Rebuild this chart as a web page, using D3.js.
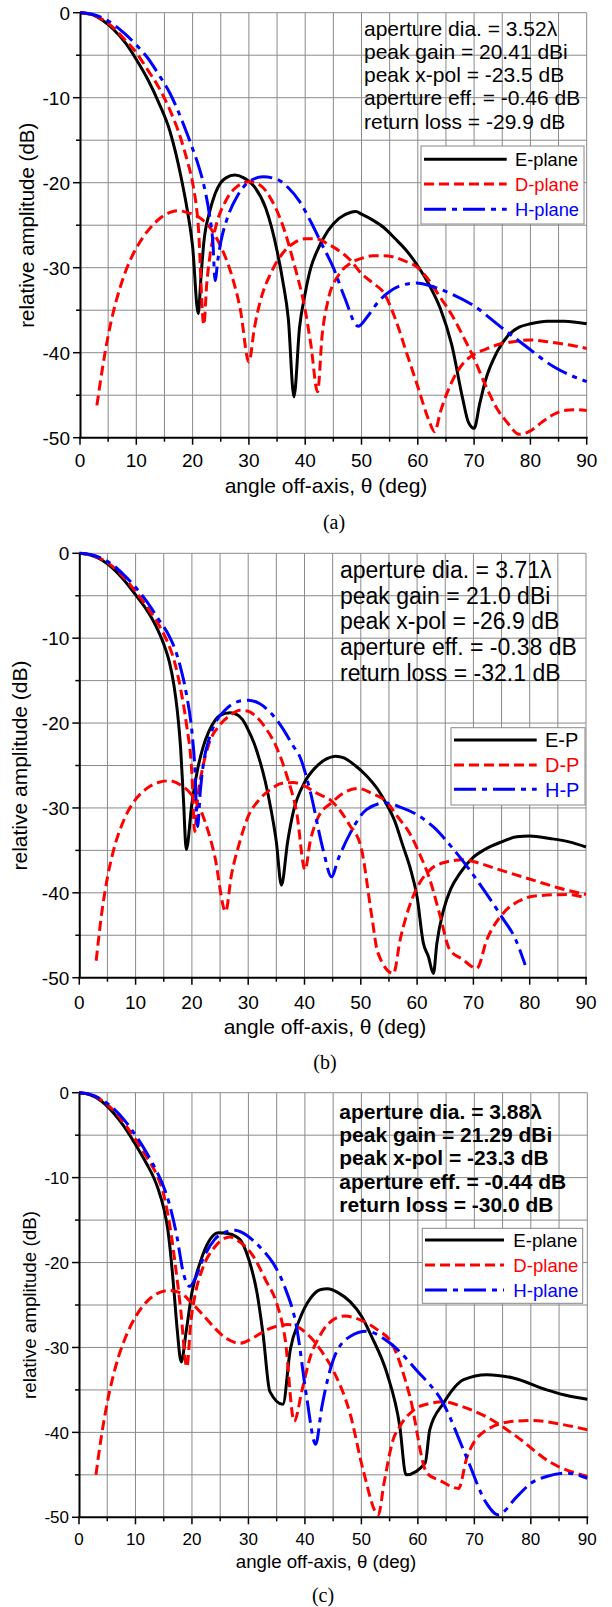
<!DOCTYPE html>
<html>
<head>
<meta charset="utf-8">
<script src="https://cdn.jsdelivr.net/npm/d3@7"></script>
<style>
  body { margin: 0; background: #fff; }
  svg { display: block; }
</style>
</head>
<body>
<svg id="chart"></svg>
<script>
// ---- data: [angle (deg), relative amplitude (dB)] ----
const xTicks = [0, 10, 20, 30, 40, 50, 60, 70, 80, 90];
const yTicks = [0, -10, -20, -30, -40, -50];

// (a)
const aE = [[0,0],[2,-0.2],[4,-0.9],[6,-2],[8,-3.5],[10,-5.5],[12,-7.8],[14,-10.6],[16,-14],[18,-19.5],[19,-23],[20,-27.5],[21,-35.4],[21.5,-31],[22,-27],[23,-23.5],[24,-21.3],[25,-20],[26,-19.4],[27.5,-19.1],[29,-19.4],[31,-20.5],[33,-23],[35,-28],[36,-31.5],[37,-36],[38,-45.2],[39,-37],[40,-33],[41,-30],[42,-28.2],[44,-25.7],[46,-24.2],[48,-23.5],[49,-23.4],[50,-23.7],[52,-24.4],[54,-25.3],[56,-26.6],[58,-28],[60,-29.8],[62,-32],[64,-34.8],[66,-39],[68,-45.5],[69,-48.2],[70,-48.9],[71,-46],[72,-43.3],[74,-40],[76,-38],[78,-37],[80,-36.6],[83,-36.3],[86,-36.3],[90,-36.6]];
const aD = [[0,0],[2,-0.2],[4,-0.8],[6,-1.8],[8,-3.2],[10,-4.7],[12,-6.7],[14,-8.8],[16,-11.5],[18,-15],[19,-17.3],[20,-20],[21,-25],[22,-36.7],[22.5,-32],[23,-29],[24,-25.5],[26,-22],[28,-20.4],[30,-19.9],[32,-20.3],[34,-22],[36,-25],[38,-29.5],[40,-35],[41,-39],[42.2,-44.6],[43,-38],[44,-34],[46,-30.8],[48,-29.5],[50,-28.9],[52,-28.6],[54,-28.6],[56,-28.8],[58,-29.3],[60,-30],[62,-31.5],[64,-33.5],[66,-35.5],[68,-38],[70,-40.7],[72,-43.8],[74,-46.5],[76,-48.3],[78,-49.6],[80,-49.2],[82,-48.2],[84,-47.3],[86,-46.8],[88,-46.7],[90,-46.8]];
const aDx = [[3,-46.2],[4,-41.8],[5,-38],[6,-35],[7,-32.6],[8,-30.6],[9,-29],[10,-27.7],[12,-25.7],[14,-24.3],[16,-23.5],[17.5,-23.3],[19,-23.5],[21,-24],[23,-25.2],[25,-27.5],[27,-31],[28.5,-35],[30,-41.1],[31,-37],[32,-34],[34,-30.5],[36,-28.3],[38,-27.1],[40,-26.6],[42,-26.6],[44,-27.2],[46,-28],[48,-29.1],[50,-30.7],[52,-31.8],[54,-33],[56,-36],[58,-40],[60,-44],[62,-48],[63,-49.3],[64,-47],[66,-43.5],[68,-41.3],[70,-40.2],[72,-39.6],[74,-39.1],[77,-38.7],[80,-38.5],[84,-38.8],[87,-39.1],[90,-39.5]];
const aH = [[0,0],[2,-0.15],[4,-0.6],[6,-1.4],[8,-2.5],[10,-3.8],[12,-5.3],[14,-7.3],[16,-9.5],[18,-12.5],[20,-16],[21,-17.9],[22,-20.3],[23,-23.8],[23.6,-27],[24,-31.5],[24.5,-29],[25,-27],[26,-24.5],[28,-21.5],[30,-19.9],[32.5,-19.3],[35,-19.6],[37,-20.6],[39,-22.2],[41,-24.6],[43,-27.3],[45,-30],[47,-33.5],[49.4,-36.9],[51,-35.8],[53,-34],[55,-32.8],[57,-32.1],[59.8,-31.8],[62,-32.1],[65.7,-33],[70,-34.5],[74.6,-36.9],[79.3,-39.3],[84,-41.6],[90,-43.4]];

// (b)
const bE = [[0,0],[2,-0.2],[4,-0.8],[6,-1.8],[8,-3.2],[10,-4.9],[12,-6.7],[13,-7.8],[14,-9.1],[15,-10.7],[16,-12.8],[16.8,-15.5],[17.4,-18.5],[18,-23],[18.5,-29],[19,-34.9],[20,-29.5],[21,-25.5],[22,-22.8],[23,-21],[24,-19.8],[25,-19.1],[26.8,-18.8],[28,-19],[29,-19.6],[30,-20.8],[31,-22.3],[32,-24.3],[33,-26.8],[34,-30],[35,-34],[35.9,-39.1],[37,-34],[38,-30.5],[40,-27],[42,-25.2],[44,-24.2],[45.5,-23.9],[47,-24.1],[49,-25],[51,-26.2],[53,-27.8],[54.6,-29.6],[56,-31.5],[57.5,-34.5],[58.7,-36.9],[60,-40.5],[61.1,-45.9],[62,-47.5],[62.9,-49.5],[63.5,-46],[64.7,-42],[66,-39.5],[67.6,-37.7],[70,-35.8],[72,-34.9],[75,-34],[77.7,-33.4],[80,-33.3],[83.6,-33.6],[87,-34],[90,-34.6]];
const bD = [[0,0],[2,-0.2],[4,-0.7],[6,-1.6],[8,-2.9],[10,-4.5],[12,-6.3],[14,-8.3],[15.5,-10.2],[17,-13],[18,-16],[19,-20],[20,-26],[20.5,-32.8],[21,-29],[22,-25],[23,-22.5],[25,-20.2],[27,-19],[28.5,-18.5],[30,-18.6],[31,-19],[33,-20.5],[35,-22.8],[37,-26.5],[38.6,-30.5],[40.1,-37.3],[41,-34],[42.5,-31],[44.8,-29.4],[47,-28.2],[49.5,-27.7],[52,-28.3],[54.6,-29.3],[56.5,-31],[58.7,-33],[60.5,-35.5],[62.3,-38.5],[64,-42.5],[65.8,-46.7],[68,-47.8],[70.6,-48.9],[72.4,-45.5],[75.3,-42.4],[78,-41],[80.6,-40.4],[86.6,-40.2],[90,-40.6]];
const bDx = [[3,-48],[4,-42.3],[5,-38.2],[6,-35.2],[8,-31.3],[10,-29],[12,-27.7],[14,-27],[16,-26.8],[18,-27.3],[20,-28.5],[22,-31],[24,-35.5],[26,-42.2],[27,-38],[28.5,-34],[30,-31],[32,-29],[34,-27.8],[36,-27.1],[38,-27],[40,-27.4],[42,-28.2],[45,-29.3],[48,-32],[50,-34.5],[52,-43],[53,-47],[55.8,-49.5],[57,-45.5],[59.3,-40.4],[62.3,-37.3],[65,-36.4],[68.2,-36.1],[71,-36.5],[74.7,-37.3],[80.6,-38.5],[85,-39.4],[90,-40.2]];
const bH = [[0,0],[2,-0.15],[4,-0.6],[6,-1.4],[8,-2.6],[10,-4],[12,-5.7],[14,-7.7],[16,-9.8],[17,-11.3],[18,-13.5],[19,-16.5],[20,-21],[20.5,-25],[21,-32.2],[21.5,-28],[22,-25],[23,-22],[24,-20.2],[26,-18.4],[28,-17.5],[30,-17.3],[32,-17.7],[34,-18.8],[36,-20.5],[38,-22.7],[39.2,-24],[41,-28],[43.3,-34.9],[44.8,-38.1],[46,-36],[48.1,-33],[51,-30.2],[54.3,-29.4],[57,-29.9],[60,-30.8],[63,-32.3],[66,-34.5],[69,-37],[72,-39.8],[75,-42.8],[77.5,-45.5],[79.2,-48.5]];

// (c)
const cE = [[0,0],[2,-0.25],[4,-1],[6,-2.3],[8,-4],[10,-6.1],[12,-8.4],[13.3,-10.1],[14,-11.3],[15,-13.6],[15.7,-16],[16.3,-19.5],[16.9,-24],[17.4,-28],[18.1,-31.7],[19,-28],[20,-23.5],[21.4,-20.1],[23,-17.5],[24.7,-16.5],[26.5,-16.6],[28.5,-17.3],[30,-19.5],[31.5,-23.5],[32.6,-28.5],[33.8,-35.2],[36.1,-36.7],[37.4,-30.3],[39,-26.8],[41,-24.2],[42.7,-23.2],[44,-23.1],[46,-23.6],[48,-24.6],[50,-26.3],[51.8,-28.7],[54.5,-33],[56.8,-39.3],[57.9,-45],[61.3,-43.6],[62.1,-39.7],[64.5,-36.6],[68.1,-33.8],[72.2,-33.2],[76.9,-33.6],[82.8,-35],[86,-35.6],[90,-36.1]];
const cD = [[0,0],[2,-0.2],[4,-0.9],[6,-2],[8,-3.6],[10,-5.5],[12,-7.6],[13,-8.7],[14,-10],[15,-12],[16,-15.3],[17,-20],[18,-25.5],[19.1,-32.3],[19.8,-27],[20.5,-24],[22,-20.5],[24,-18.2],[26.7,-17],[28.5,-17.6],[30.9,-19.3],[33,-22],[35,-24.8],[36.5,-29],[38.1,-38.7],[39.5,-35],[41,-31],[42.5,-28.8],[44,-27.3],[47,-26.3],[50,-26.8],[53,-28],[55.1,-29.2],[58.6,-35.8],[61.6,-44.8],[64,-45.7],[67.2,-46.6],[68.7,-42.9],[72.2,-39.7],[76.9,-38.7],[80.4,-38.6],[85,-39],[90,-39.7]];
const cDx = [[3,-45],[4,-40.3],[5,-36.5],[6,-33.5],[7,-31.1],[8,-29.2],[10,-26.4],[12,-24.6],[14,-23.6],[16,-23.3],[18,-23.6],[20,-24.8],[22,-26.2],[24,-27.7],[26,-28.9],[28.5,-29.5],[31,-28.8],[33,-28],[35,-27.5],[37,-27.3],[39,-27.7],[41,-28.8],[43,-30.5],[45,-32.7],[48,-37.8],[50.3,-44.4],[53,-49.7],[54,-46],[55.6,-40.9],[56.8,-39.3],[59.2,-37.4],[62,-36.6],[64.5,-36.4],[68,-37],[72.2,-38.2],[77.5,-40.5],[83.4,-43.5],[90,-45.2]];
const cH = [[0,0],[2,-0.2],[4,-0.8],[6,-1.8],[8,-3.2],[10,-5],[12,-7.1],[14,-9.6],[15,-11.1],[16,-13.1],[17.3,-16.8],[18.5,-21.3],[19.6,-22.8],[20.5,-22],[22,-19.5],[24,-17.3],[26,-16.4],[27.6,-16.2],[29,-16.5],[31,-17.5],[32.5,-18.5],[34.4,-20.1],[36.5,-23],[38.5,-27.5],[40.3,-35.8],[41.9,-41.4],[43,-37],[45,-31.5],[48,-28.7],[50.9,-28.1],[55.1,-29.5],[59.8,-32.7],[64.5,-36.6],[68.6,-42.9],[72.2,-48.4],[74.2,-49.7],[77.5,-47.6],[80,-46],[82.8,-45.2],[86.4,-44.8],[90,-45.4]];

const legendA = ["E-plane", "D-plane", "H-plane"];
const legendB = ["E-P", "D-P", "H-P"];
const notesA = ["aperture dia. = 3.52λ", "peak gain = 20.41 dBi", "peak x-pol = -23.5 dB", "aperture eff. = -0.46 dB", "return loss = -29.9 dB"];
const notesB = ["aperture dia. = 3.71λ", "peak gain = 21.0 dBi", "peak x-pol = -26.9 dB", "aperture eff. = -0.38 dB", "return loss = -32.1 dB"];
const notesC = ["aperture dia. = 3.88λ", "peak gain = 21.29 dBi", "peak x-pol = -23.3 dB", "aperture eff. = -0.44 dB", "return loss = -30.0 dB"];

// ---- styles ----
const styles = [
  { color: "#000", dash: null },          // E
  { color: "#ff0000", dash: "10,5" },     // D (co)
  { color: "#ff0000", dash: "10,5" },     // D (cross)
  { color: "#0000ff", dash: "22,6,5,6" }  // H
];
const legendStyles = [styles[0], styles[1], styles[3]];
const FONT = "Liberation Sans, Arial, Helvetica, sans-serif";

const svg = d3.select("#chart").attr("width", 612).attr("height", 1607);
svg.append("rect").attr("width", 612).attr("height", 1607).attr("fill", "#fff");

const panels = [
  { id: "a", x0: 80, x1: 586.7, y0: 12.7, y1: 437.7, tickFont: 19, xtickY: 460,
    titleFont: 21, xtitleX: 326, xtitleY: 485, ylabX: 27, ylabFont: 20.5,
    caption: "(a)", capX: 334, capY: 522,
    notes: notesA, noteX: 364, noteY: 35.5, noteDy: 23.3, noteFont: 21, noteBold: false,
    legend: { x: 421, y: 146, w: 163, h: 78, rows: [159.3, 184, 209.3], lx0: 424, lx1: 506.7, tx: 515, font: 18.3 },
    labels: legendA, series: [aE, aD, aDx, aH] },
  { id: "b", x0: 79.3, x1: 586, y0: 553.3, y1: 977.7, tickFont: 19, xtickY: 1001.7,
    titleFont: 21, xtitleX: 325, xtitleY: 1026.7, ylabX: 19, ylabFont: 21,
    caption: "(b)", capX: 325, capY: 1062,
    notes: notesB, noteX: 340, noteY: 577.7, noteDy: 25.8, noteFont: 23, noteBold: false,
    legend: { x: 451, y: 727.7, w: 134, h: 77.3, rows: [740, 765, 789.3], lx0: 454, lx1: 536.7, tx: 545, font: 20 },
    labels: legendB, series: [bE, bD, bDx, bH] },
  { id: "c", x0: 79, x1: 587.3, y0: 1092.7, y1: 1517.3, tickFont: 17, xtickY: 1539,
    titleFont: 18.7, xtitleX: 326, xtitleY: 1561, ylabX: 29, ylabFont: 18.8,
    caption: "(c)", capX: 323, capY: 1595,
    notes: notesC, noteX: 339.3, noteY: 1118.8, noteDy: 23.3, noteFont: 21, noteBold: true,
    legend: { x: 422.3, y: 1228.3, w: 160.4, h: 75, rows: [1240, 1265, 1290], lx0: 425, lx1: 504, tx: 513.3, font: 18.6 },
    labels: legendA, series: [cE, cD, cDx, cH] }
];

panels.forEach(p => {
  const x = d3.scaleLinear().domain([0, 90]).range([p.x0, p.x1]);
  const y = d3.scaleLinear().domain([0, -50]).range([p.y0, p.y1]);
  const g = svg.append("g");

  // grid every 5
  const gridX = d3.range(5, 91, 5);
  const gridY = d3.range(0, -50, -5);
  g.append("g").selectAll("line").data(gridX).enter().append("line")
    .attr("x1", d => x(d)).attr("x2", d => x(d))
    .attr("y1", y(0)).attr("y2", y(-50))
    .attr("stroke", "#8a8a8a").attr("stroke-width", 1);
  g.append("g").selectAll("line").data(gridY).enter().append("line")
    .attr("x1", x(0)).attr("x2", x(90))
    .attr("y1", d => y(d)).attr("y2", d => y(d))
    .attr("stroke", "#8a8a8a").attr("stroke-width", 1);

  // curves
  svg.append("clipPath").attr("id", "clip-" + p.id)
    .append("rect").attr("x", p.x0).attr("y", p.y0 - 2)
    .attr("width", p.x1 - p.x0 + 2).attr("height", p.y1 - p.y0 + 2);
  const line = d3.line().x(d => x(d[0])).y(d => y(d[1])).curve(d3.curveMonotoneX);
  const cg = g.append("g").attr("clip-path", `url(#clip-${p.id})`);
  p.series.forEach((s, i) => {
    cg.append("path").datum(s)
      .attr("d", line)
      .attr("fill", "none")
      .attr("stroke", styles[i].color)
      .attr("stroke-width", 3)
      .attr("stroke-linejoin", "round")
      .attr("stroke-dasharray", styles[i].dash);
  });

  // axes
  const yAxis = d3.axisLeft(y).tickValues(d3.range(0, -51, -5))
    .tickSize(0).tickFormat("");
  g.append("g").attr("transform", `translate(${p.x0},0)`).call(yAxis)
    .call(a => a.select(".domain").attr("stroke", "#000").attr("stroke-width", 2));
  g.append("g").selectAll("line").data(d3.range(0, -51, -5)).enter().append("line")
    .attr("x1", d => p.x0 - (d % 10 === 0 ? 7 : 4)).attr("x2", p.x0)
    .attr("y1", d => y(d)).attr("y2", d => y(d))
    .attr("stroke", "#000").attr("stroke-width", 1.5);
  g.append("line")
    .attr("x1", p.x0 - 1).attr("x2", p.x1 + 1).attr("y1", p.y1).attr("y2", p.y1)
    .attr("stroke", "#000").attr("stroke-width", 2);
  g.append("g").selectAll("line").data(d3.range(0, 91, 5)).enter().append("line")
    .attr("x1", d => x(d)).attr("x2", d => x(d))
    .attr("y1", p.y1).attr("y2", d => p.y1 + (d % 10 === 0 ? 7 : 4))
    .attr("stroke", "#000").attr("stroke-width", 1.5);

  // tick labels
  g.append("g").selectAll("text").data(yTicks).enter().append("text")
    .attr("x", p.x0 - 10).attr("y", d => y(d)).attr("dy", "0.36em")
    .attr("text-anchor", "end")
    .style("font-family", FONT).style("font-size", p.tickFont + "px")
    .text(d => d);
  g.append("g").selectAll("text").data(xTicks).enter().append("text")
    .attr("x", d => x(d)).attr("y", p.xtickY).attr("dy", "0.36em")
    .attr("text-anchor", "middle")
    .style("font-family", FONT).style("font-size", p.tickFont + "px")
    .text(d => d);

  // axis titles
  g.append("text")
    .attr("x", p.xtitleX).attr("y", p.xtitleY).attr("dy", "0.36em")
    .attr("text-anchor", "middle")
    .style("font-family", FONT).style("font-size", p.titleFont + "px")
    .text("angle off-axis, θ (deg)");
  g.append("text")
    .attr("transform", `translate(${p.ylabX},${(p.y0 + p.y1) / 2}) rotate(-90)`)
    .attr("dy", "0.36em")
    .attr("text-anchor", "middle")
    .style("font-family", FONT).style("font-size", p.ylabFont + "px")
    .text("relative amplitude (dB)");

  // caption
  g.append("text")
    .attr("x", p.capX).attr("y", p.capY).attr("dy", "0.33em")
    .attr("text-anchor", "middle")
    .style("font-family", "Liberation Serif, Times New Roman, serif").style("font-size", "20px")
    .text(p.caption);

  // annotation
  g.append("g").selectAll("text").data(p.notes).enter().append("text")
    .attr("x", p.noteX).attr("y", (d, i) => p.noteY + i * p.noteDy)
    .style("font-family", FONT).style("font-size", p.noteFont + "px")
    .style("font-weight", p.noteBold ? "bold" : "normal")
    .text(d => d);

  // legend
  const L = p.legend;
  const lg = g.append("g");
  lg.append("rect").attr("x", L.x).attr("y", L.y).attr("width", L.w).attr("height", L.h)
    .attr("fill", "#fff").attr("stroke", "#888").attr("stroke-width", 1);
  p.labels.forEach((lab, i) => {
    lg.append("line")
      .attr("x1", L.lx0).attr("x2", L.lx1).attr("y1", L.rows[i]).attr("y2", L.rows[i])
      .attr("stroke", legendStyles[i].color).attr("stroke-width", 3)
      .attr("stroke-dasharray", legendStyles[i].dash);
    lg.append("text")
      .attr("x", L.tx).attr("y", L.rows[i]).attr("dy", "0.36em")
      .style("font-family", FONT).style("font-size", L.font + "px")
      .attr("fill", legendStyles[i].color)
      .text(lab);
  });
});
</script>
</body>
</html>
